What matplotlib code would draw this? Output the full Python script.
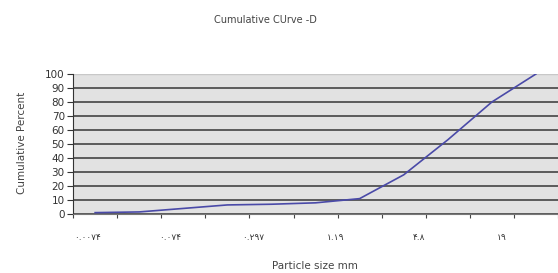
import numpy as np
import matplotlib
matplotlib.use('Agg')
import matplotlib.pyplot as plt

# data
sizes = list(range(11))  # category positions (sieve sizes)
cum_percent = [1, 1.5, 4, 6.5, 7, 8, 11, 28, 53, 80, 100]
x_labels = ['۰.۰۰۷۴', '۰.۰۷۴', '۰.۲۹۷', '۱.۱۹', '۴.۸', '۱۹']
y_ticks = list(range(0, 101, 10))

fig = plt.figure(figsize=(5.58, 2.73), dpi=100)
fig.patch.set_facecolor('white')
ax = fig.add_axes([0.131, 0.216, 0.869, 0.513])
ax.set_facecolor('#e2e2e2')

ax.plot(sizes, cum_percent, color='#4a4aa8', lw=1.2, zorder=3)

ax.set_xlim(-0.5, 10.5)
ax.set_ylim(0, 100)

# horizontal gridlines
ax.set_yticks(y_ticks)
ax.set_yticklabels([str(v) for v in y_ticks], fontsize=7.5, color='#333333')
ax.yaxis.grid(True, color='#505050', lw=1.3)
ax.set_axisbelow(True)
ax.tick_params(axis='y', length=4, width=0.8, color='#333333', pad=2)

# x ticks: marks between categories, labels every ~2 categories
label_pos = np.arange(len(x_labels)) * 1.88 - 0.18
ax.set_xticks(label_pos)
ax.set_xticklabels(x_labels, fontsize=6.5, color='#333333', family=['DejaVu Sans'])
ax.tick_params(axis='x', length=0, pad=14)
ax.set_xticks(np.arange(-0.5, 11, 1), minor=True)
ax.tick_params(axis='x', which='minor', length=3, width=0.8, color='#444444')

for side in ['top', 'right']:
    ax.spines[side].set_visible(False)
ax.spines['left'].set_color('#333333')
ax.spines['bottom'].set_color('#777777')
ax.axhline(100, color='#c8c8c8', lw=1.0)

fig.text(265 / 558, 1 - 20 / 273, 'Cumulative CUrve -D', ha='center', va='center',
         fontsize=7, color='#444444')
fig.text(22 / 558, 1 - 143 / 273, 'Cumulative Percent', rotation=90, ha='center',
         va='center', fontsize=7.5, color='#444444')
fig.text(315 / 558, 1 - 266 / 273, 'Particle size mm', ha='center', va='center',
         fontsize=7.5, color='#444444')

fig.savefig('out.png', dpi=100)
